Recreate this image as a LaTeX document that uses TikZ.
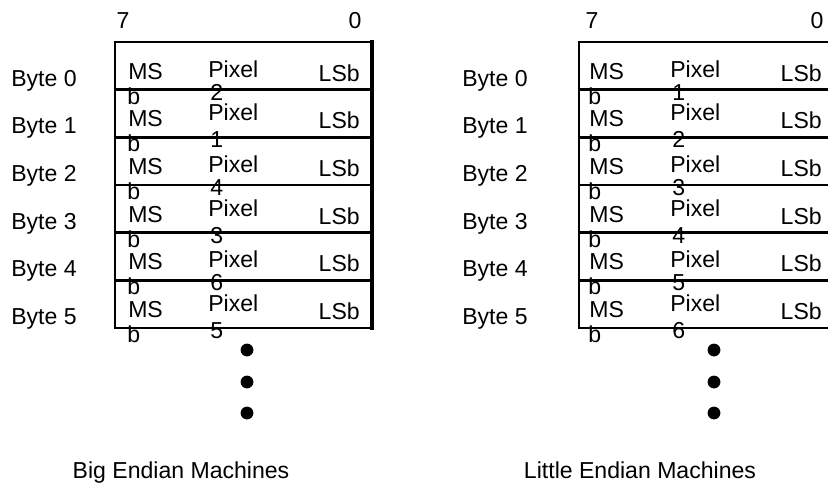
\documentclass[tikz,border=0pt]{standalone}
\usepackage{fontspec}
\setmainfont{Liberation Sans}

\tikzset{
    lt/.style={inner sep=0pt, anchor=base west},
    rt/.style={inner sep=0pt, anchor=base east},
    ct/.style={inner sep=0pt, anchor=base},
    rowline/.style={line width=1.8pt}
}

\begin{document}
\begin{tikzpicture}[x=0.025cm, y=-0.025cm, font=\fontsize{16.4}{19.7}\selectfont]
    \useasboundingbox (0,0) rectangle (828,482);

    % Big endian box
    \draw[rowline] (115,42) rectangle (372,328);
    \draw[line width=2.8pt] (372,40) -- (372,330);
    \foreach \y in {89.7,137.3,185,232.7,280.3}
        \draw[rowline] (115,\y) -- (372,\y);

    % Little endian box (runs off the page)
    \draw[rowline] (579,42) rectangle (836,328);
    \foreach \y in {89.7,137.3,185,232.7,280.3}
        \draw[rowline] (579,\y) -- (836,\y);

    % Bit numbers
    \node[ct] (b7) at (123,28) {7};
    \node[ct] (b0) at (355,28) {0};
    \node[ct] (l7) at (592,28) {7};
    \node[ct] (l0) at (817,28) {0};

    % Rows -- big endian
    \foreach \k/\d/\py in {0/2/35,1/1/31,2/4/35,3/3/31,4/6/35,5/5/31} {
        \pgfmathsetmacro\t{42+47.67*\k}
        \node[lt] (bbyte\k) at (11,{\t+44}) {Byte \k};
        \node[lt] (bms\k)  at (128,{\t+37}) {MS};
        \node[lt] (bb\k)   at (127,{\t+62}) {b};
        \node[lt] (bpix\k) at (208,{\t+\py}) {Pixel};
        \node[lt] (bnum\k) at (210,{\t+58}) {\d};
        \node[rt] (blsb\k) at (360,{\t+39}) {LSb};
    }

    % Rows -- little endian
    \foreach \k/\d/\py in {0/1/35,1/2/31,2/3/35,3/4/31,4/5/35,5/6/31} {
        \pgfmathsetmacro\t{42+47.67*\k}
        \node[lt] (lbyte\k) at (462,{\t+44}) {Byte \k};
        \node[lt] (lms\k)  at (589,{\t+37}) {MS};
        \node[lt] (lb\k)   at (588,{\t+62}) {b};
        \node[lt] (lpix\k) at (670,{\t+\py}) {Pixel};
        \node[lt] (lnum\k) at (672,{\t+58}) {\d};
        \node[rt] (llsb\k) at (822,{\t+39}) {LSb};
    }

    % More bytes follow
    \foreach \y in {350,382,413} {
        \fill (247,\y) circle[radius=0.16cm];
        \fill (714,\y) circle[radius=0.16cm];
    }

    % Captions
    \node[ct] (bigcap) at (181,478) {Big Endian Machines};
    \node[ct] (littlecap) at (640,478) {Little Endian Machines};
\end{tikzpicture}
\end{document}
